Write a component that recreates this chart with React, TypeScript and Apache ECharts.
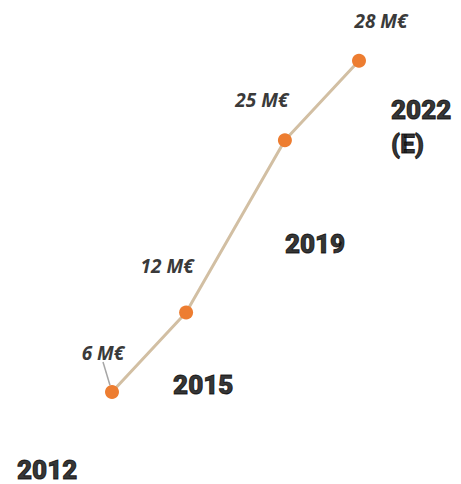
import React, { useEffect, useRef } from "react";
import * as echarts from "echarts";

const years = [2012, 2015, 2019, 2022];
const yearLabels = ["2012", "2015", "2019", "2022\n(E)"];
const revenue = [6, 12, 25, 28];
const valueLabels = ["6 M€", "12 M€", "25 M€", "28 M€"];
// vertical placement level of each milestone on the growth path
const pathLevel = [1, 4, 10.5, 13.5];

const valueLabelShift = [
  [-9, -23],
  [-19, -30],
  [-23, -24],
  [22, -23],
];
const yearLabelShift = [
  [-95, 78],
  [-13, 72],
  [0, 104],
  [32, 66],
];

export default function App() {
  const ref = useRef<HTMLDivElement>(null);
  useEffect(() => {
    if (!ref.current) return;
    const chart = echarts.init(ref.current, undefined, { renderer: "svg" });
    const pts = years.map((y, i) => [y, pathLevel[i], revenue[i]]);
    chart.setOption({
      animation: false,
      grid: { left: 13.2, right: 3.2, top: 21, bottom: 65.5 },
      xAxis: { type: "value", min: 2008, max: 2026, show: false },
      yAxis: { type: "value", min: 0, max: 15, show: false },
      series: [
        {
          type: "line",
          data: pts.map((p, i) => ({
            value: p,
            labelLine: i === 0 ? { show: true } : { show: false },
          })),
          lineStyle: { color: "#d2bfa3", width: 3 },
          symbol: "circle",
          symbolSize: 14,
          itemStyle: { color: "#ed7d31" },
          label: {
            show: true,
            position: "top",
            distance: 0,
            formatter: (p: any) => valueLabels[p.dataIndex],
            fontFamily: "Open Sans",
            fontStyle: "italic",
            fontWeight: 700,
            fontSize: 19,
            color: "#3a3a3a",
          },
          labelLine: {
            lineStyle: { color: "#a6a6a6", width: 1.5 },
          },
          labelLayout: (params: any) => ({
            dx: valueLabelShift[params.dataIndex][0],
            dy: valueLabelShift[params.dataIndex][1],
          }),
          z: 3,
        },
        {
          type: "scatter",
          data: pts,
          symbolSize: 0,
          silent: true,
          label: {
            show: true,
            position: "inside",
            formatter: (p: any) => yearLabels[p.dataIndex],
            fontFamily: "Roboto",
            fontWeight: 900,
            fontSize: 26,
            lineHeight: 34,
            align: "left",
            color: "#000000",
            textBorderColor: "#000000",
            textBorderWidth: 0.9,
          },
          labelLayout: (params: any) => ({
            dx: yearLabelShift[params.dataIndex][0],
            dy: yearLabelShift[params.dataIndex][1],
          }),
        },
      ],
    });
    return () => chart.dispose();
  }, []);
  return (
    <div
      ref={ref}
      style={{ position: "fixed", left: 0, top: 0, width: 461, height: 484, background: "#fff" }}
    />
  );
}
